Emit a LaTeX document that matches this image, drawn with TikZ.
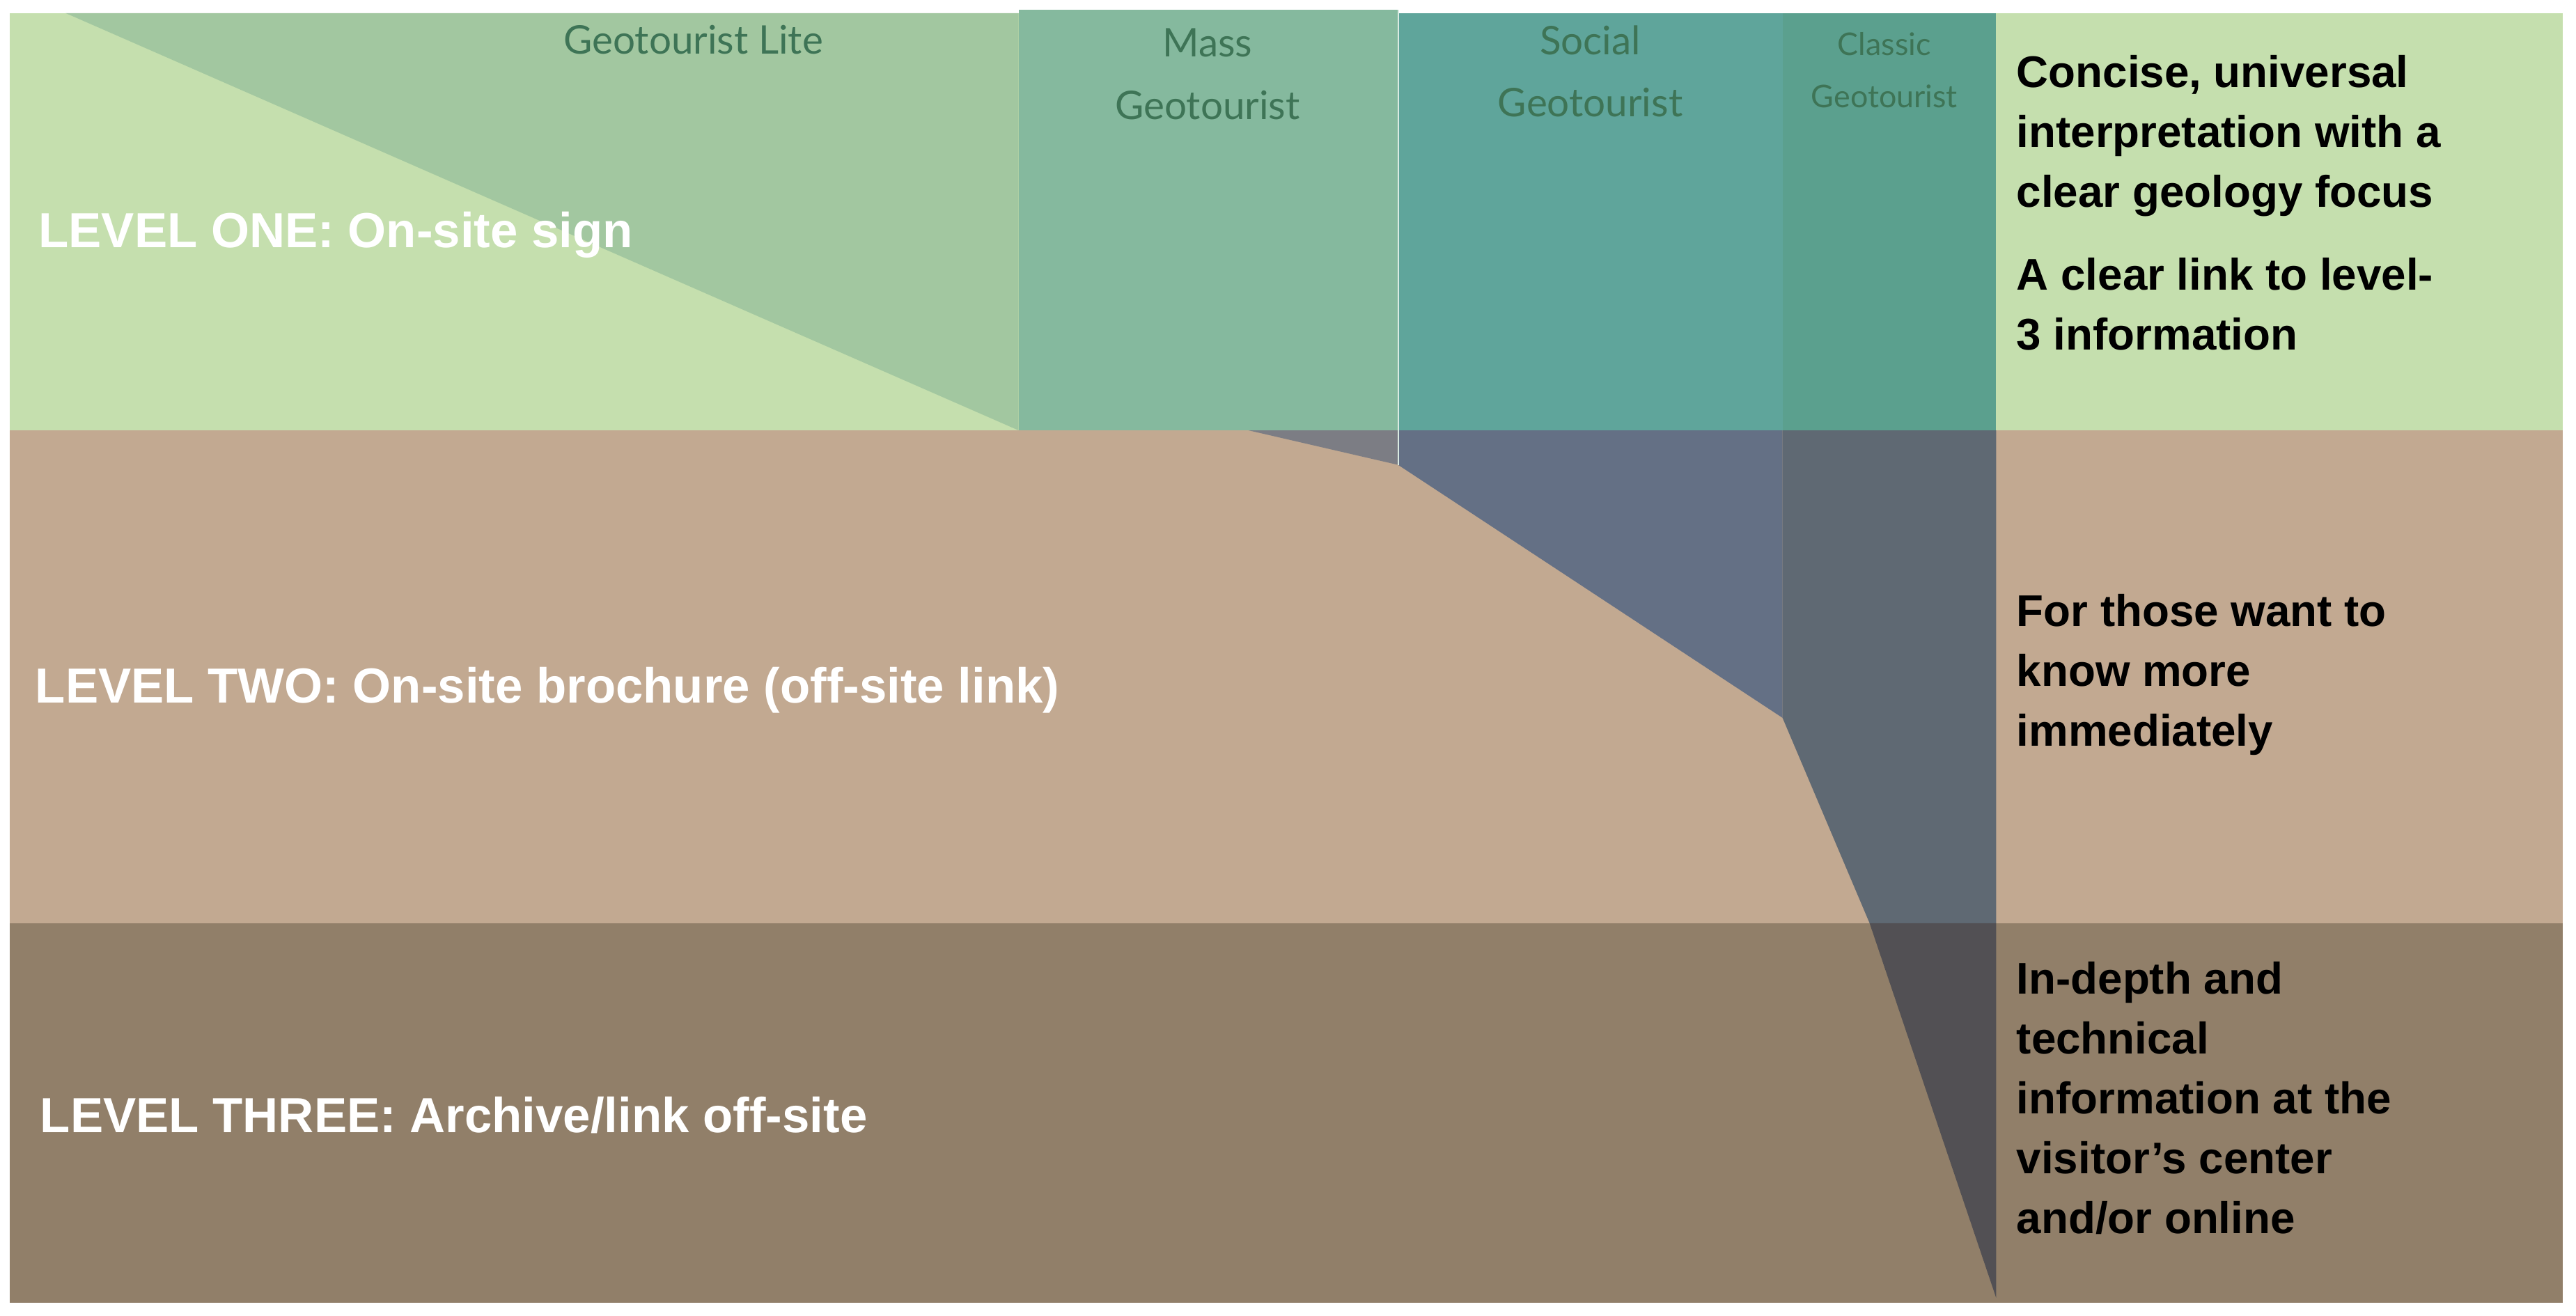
\documentclass[tikz,border=0pt]{standalone}
\usepackage{fontspec}
\setmainfont{Liberation Sans}
\newfontfamily\colfont{Lato}
\usetikzlibrary{positioning}
\definecolor{LevelOneFill}{HTML}{C5DFAE}
\definecolor{LevelTwoFill}{HTML}{C2A991}
\definecolor{LevelThreeFill}{HTML}{917F69}
\definecolor{LiteFill}{HTML}{A2C7A0}
\definecolor{MassFill}{HTML}{85B99E}
\definecolor{SocialFill}{HTML}{5FA59B}
\definecolor{ClassicFill}{HTML}{5BA08E}
\definecolor{SocialDeep}{HTML}{647085}
\definecolor{ClassicDeep}{HTML}{5F6973}
\definecolor{ClassicDeepest}{HTML}{525054}
\definecolor{MassDeep}{HTML}{7C7D84}
\definecolor{ColText}{HTML}{3E7456}
\tikzset{
	levellabel/.style={anchor=west, text=white, font=\bfseries\fontsize{30}{34}\selectfont},
	notelabel/.style={anchor=north west, align=left, text=black, font=\bfseries\fontsize{27}{36.5}\selectfont},
	collabel/.style={anchor=north, align=center, text=ColText, font=\colfont\fontsize{24}{38}\selectfont}
}
\begin{document}
\begin{tikzpicture}[x=1pt, y=-1pt]
	\useasboundingbox[fill=white] (0,0) rectangle (1568,801);
	% level bands
	\fill[LevelOneFill] (6,8) rectangle (1560,262);
	\fill[LevelTwoFill] (6,262) rectangle (1560,562);
	\fill[LevelThreeFill] (6,562) rectangle (1560,793);
	
	% geotourist columns
	\fill[LiteFill] (40,8) -- (620,8) -- (620,262) -- cycle;
	\fill[MassFill] (620,6) rectangle (851,262);
	\fill[MassDeep] (760,262) -- (851,262) -- (851,283) -- cycle;
	\fill[SocialFill] (851,8) rectangle (1085,262);
	\fill[SocialDeep] (851,262) -- (1085,262) -- (1085,437) -- (851,283) -- cycle;
	\fill[ClassicFill] (1085,8) rectangle (1215,262);
	\fill[ClassicDeep] (1085,262) -- (1215,262) -- (1215,562) -- (1138,562) -- (1085,437) -- cycle;
	\fill[ClassicDeepest] (1138,562) -- (1215,562) -- (1215,790) -- cycle;
	\draw[white!70!MassFill, line width=0.8pt] (851,6) -- (851,283);
	
	% column titles
	\node[collabel] (lite) at (422,12) {Geotourist Lite};
	\node[collabel] (mass) at (735,14) {Mass\\Geotourist};
	\node[collabel] (social) at (968,12) {Social\\Geotourist};
	\node[collabel, font=\colfont\fontsize{19}{32}\selectfont] (classic) at (1147,16) {Classic\\Geotourist};
	
	% level titles
	\node[levellabel] (one) at (20,143) {LEVEL ONE: On-site sign};
	\node[levellabel] (two) at (18,420) {LEVEL TWO: On-site brochure (off-site link)};
	\node[levellabel] (three) at (21,679) {LEVEL THREE: Archive/link off-site};
	
	% notes
	\node[notelabel] (noteone) at (1224,30) {Concise, universal\\interpretation with a\\clear geology focus\\[14pt]A clear link to level-\\3 information};
	\node[notelabel] (notetwo) at (1224,358) {For those want to\\know more\\immediately};
	\node[notelabel] (notethree) at (1224,582) {In-depth and\\technical\\information at the\\visitor’s center\\and/or online};
\end{tikzpicture}
\end{document}
